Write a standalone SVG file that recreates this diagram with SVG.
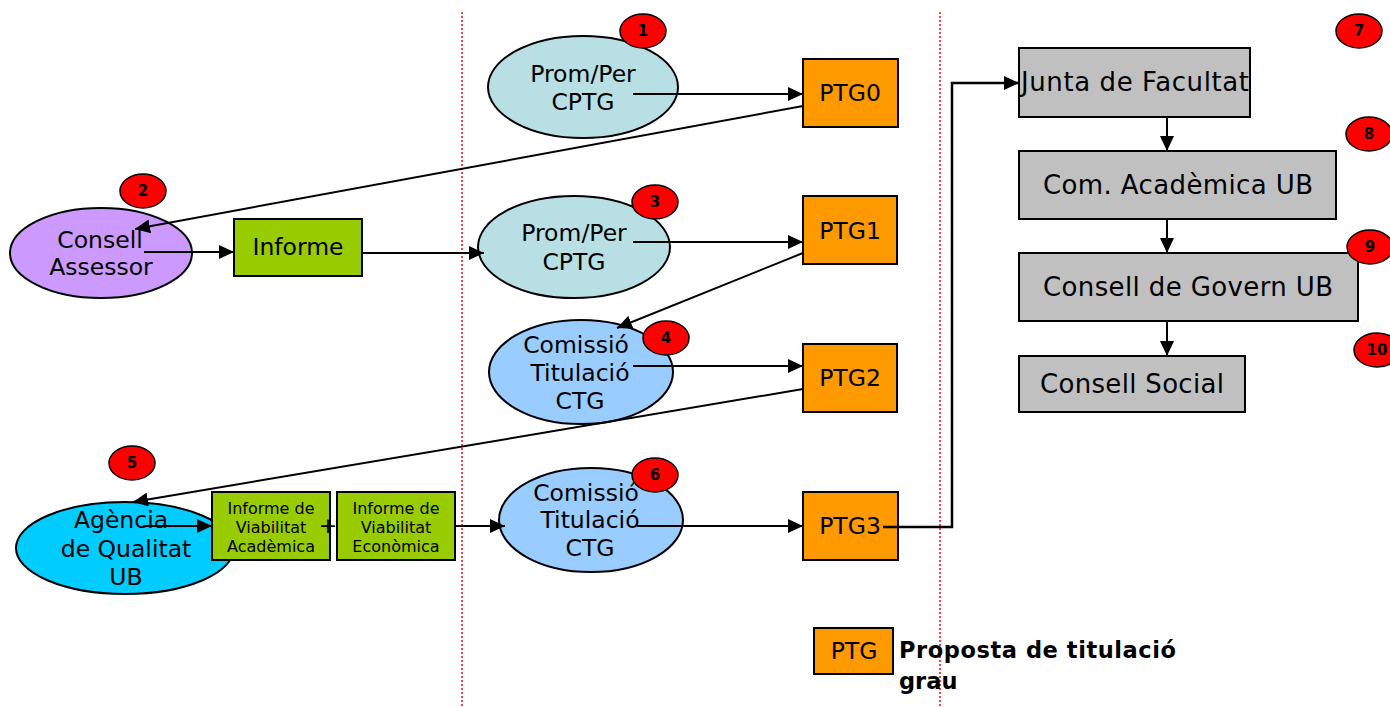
<svg xmlns="http://www.w3.org/2000/svg" width="1390" height="707" viewBox="0 0 1390 707">
<style>
text{font-family:"DejaVu Sans","Verdana",sans-serif;fill:#000;text-anchor:middle;dominant-baseline:central}
.n{stroke:#000;stroke-width:2}
.t{font-size:23.5px}
.r{font-size:26px}
.s{font-size:16px}
.b{fill:#ff0000;stroke:#000;stroke-width:1.5}
.bt{font-size:15px;font-weight:bold}
.c{fill:none;stroke:#000;stroke-width:2}
.d{stroke:#ff0000;stroke-width:1.5;stroke-dasharray:2 2}
.lg{font-size:22.5px;font-weight:bold;text-anchor:start}
</style>
<defs>
<marker id="ah" markerUnits="userSpaceOnUse" markerWidth="16" markerHeight="14" refX="15" refY="7" orient="auto">
<path d="M0,0 L15,7 L0,14 Z" fill="#000"/>
</marker>
</defs>
<rect width="1390" height="707" fill="#fff"/>
<g id="separators">
<line class="d" x1="462" y1="12" x2="462" y2="707"/>
<line class="d" x1="940" y1="12" x2="940" y2="707"/>
</g>
<g id="n1">
<ellipse class="n" cx="583" cy="87" rx="95" ry="51" fill="#b8dfe3"/>
<text class="t" x="583" y="74">Prom/Per</text>
<text class="t" x="583" y="102">CPTG</text>
<ellipse class="b" cx="643" cy="31" rx="23" ry="17"/>
<text class="bt" x="643" y="31">1</text>
</g>
<g id="ptg0">
<rect class="n" x="803" y="59" width="95" height="68" fill="#ff9900"/>
<text class="t" x="850" y="93">PTG0</text>
</g>
<g id="n2">
<ellipse class="n" cx="101" cy="253" rx="91" ry="45" fill="#cc99ff"/>
<text class="t" x="100" y="240">Consell</text>
<text class="t" x="101" y="267">Assessor</text>
<ellipse class="b" cx="143" cy="191" rx="23" ry="17"/>
<text class="bt" x="143" y="191">2</text>
</g>
<g id="informe">
<rect class="n" x="234" y="219" width="128" height="57" fill="#99cc00"/>
<text class="t" x="298" y="247">Informe</text>
</g>
<g id="n3">
<ellipse class="n" cx="574" cy="247" rx="96" ry="51" fill="#b8dfe3"/>
<text class="t" x="574" y="233">Prom/Per</text>
<text class="t" x="574" y="262">CPTG</text>
<ellipse class="b" cx="655" cy="202" rx="23" ry="17"/>
<text class="bt" x="655" y="202">3</text>
</g>
<g id="ptg1">
<rect class="n" x="803" y="196" width="94" height="68" fill="#ff9900"/>
<text class="t" x="850" y="231">PTG1</text>
</g>
<g id="n4">
<ellipse class="n" cx="581" cy="372" rx="92" ry="52" fill="#99ccff"/>
<text class="t" x="576" y="345">Comissió</text>
<text class="t" x="580" y="373">Titulació</text>
<text class="t" x="580" y="401">CTG</text>
<ellipse class="b" cx="666" cy="338" rx="23" ry="17"/>
<text class="bt" x="666" y="338">4</text>
</g>
<g id="ptg2">
<rect class="n" x="803" y="344" width="94" height="68" fill="#ff9900"/>
<text class="t" x="850" y="378">PTG2</text>
</g>
<g id="n5">
<ellipse class="n" cx="125" cy="548" rx="109" ry="46" fill="#00ccff"/>
<text class="t" x="121" y="520">Agència</text>
<text class="t" x="126" y="549">de Qualitat</text>
<text class="t" x="126" y="577">UB</text>
<ellipse class="b" cx="132" cy="463" rx="23" ry="17"/>
<text class="bt" x="132" y="463">5</text>
</g>
<g id="iva">
<rect class="n" x="212" y="492" width="118" height="68" fill="#99cc00"/>
<text class="s" x="271" y="508">Informe de</text>
<text class="s" x="271" y="527">Viabilitat</text>
<text class="s" x="271" y="546">Acadèmica</text>
</g>
<g id="plus">
<text x="328" y="525" style="font-size:22px">+</text>
</g>
<g id="ive">
<rect class="n" x="337" y="492" width="118" height="68" fill="#99cc00"/>
<text class="s" x="396" y="508">Informe de</text>
<text class="s" x="396" y="527">Viabilitat</text>
<text class="s" x="396" y="546">Econòmica</text>
</g>
<g id="n6">
<ellipse class="n" cx="591" cy="520" rx="92" ry="52" fill="#99ccff"/>
<text class="t" x="586" y="493">Comissió</text>
<text class="t" x="590" y="520">Titulació</text>
<text class="t" x="590" y="548">CTG</text>
<ellipse class="b" cx="655" cy="475" rx="23" ry="17"/>
<text class="bt" x="655" y="475">6</text>
</g>
<g id="ptg3">
<rect class="n" x="803" y="492" width="95" height="68" fill="#ff9900"/>
<text class="t" x="850" y="526">PTG3</text>
</g>
<g id="junta">
<rect class="n" x="1019" y="48" width="231" height="69" fill="#c0c0c0"/>
<text class="r" x="1135" y="82" textLength="228" lengthAdjust="spacing">Junta de Facultat</text>
<ellipse class="b" cx="1359" cy="31" rx="23" ry="17"/>
<text class="bt" x="1359" y="31">7</text>
</g>
<g id="comacad">
<rect class="n" x="1019" y="151" width="317" height="68" fill="#c0c0c0"/>
<text class="r" x="1178" y="185" textLength="270" lengthAdjust="spacing">Com. Acadèmica UB</text>
<ellipse class="b" cx="1369" cy="134" rx="23" ry="17"/>
<text class="bt" x="1369" y="134">8</text>
</g>
<g id="govern">
<rect class="n" x="1019" y="253" width="339" height="68" fill="#c0c0c0"/>
<text class="r" x="1188" y="287" textLength="290" lengthAdjust="spacing">Consell de Govern UB</text>
<ellipse class="b" cx="1370" cy="247" rx="23" ry="17"/>
<text class="bt" x="1370" y="247">9</text>
</g>
<g id="social">
<rect class="n" x="1019" y="356" width="226" height="56" fill="#c0c0c0"/>
<text class="r" x="1132" y="384" textLength="184" lengthAdjust="spacing">Consell Social</text>
<ellipse class="b" cx="1377" cy="350" rx="23" ry="17"/>
<text class="bt" x="1377" y="350">10</text>
</g>
<g id="connectors">
<line class="c" x1="633" y1="94" x2="803" y2="94" marker-end="url(#ah)"/>
<line class="c" x1="803" y1="106" x2="135" y2="229" marker-end="url(#ah)"/>
<line class="c" x1="144" y1="252" x2="234" y2="252" marker-end="url(#ah)"/>
<line class="c" x1="362" y1="253" x2="484" y2="253" marker-end="url(#ah)"/>
<line class="c" x1="633" y1="242" x2="803" y2="242" marker-end="url(#ah)"/>
<line class="c" x1="803" y1="253" x2="617" y2="328" marker-end="url(#ah)"/>
<line class="c" x1="633" y1="366" x2="803" y2="366" marker-end="url(#ah)"/>
<line class="c" x1="803" y1="389" x2="133" y2="502" marker-end="url(#ah)"/>
<line class="c" x1="143" y1="526" x2="212" y2="526" marker-end="url(#ah)"/>
<line class="c" x1="455" y1="526" x2="505" y2="526" marker-end="url(#ah)"/>
<line class="c" x1="637" y1="526" x2="803" y2="526" marker-end="url(#ah)"/>
<polyline class="c" style="stroke-width:2.5" points="883,527 952,527 952,83 1019,83" marker-end="url(#ah)"/>
<line class="c" x1="1167" y1="117" x2="1167" y2="151" marker-end="url(#ah)"/>
<line class="c" x1="1167" y1="219" x2="1167" y2="253" marker-end="url(#ah)"/>
<line class="c" x1="1167" y1="321" x2="1167" y2="356" marker-end="url(#ah)"/>
</g>
<g id="legend">
<rect class="n" x="814" y="628" width="79" height="46" fill="#ff9900"/>
<text class="t" x="854" y="651">PTG</text>
<text class="lg" x="899" y="650" textLength="277" lengthAdjust="spacing">Proposta de titulació</text>
<text class="lg" x="899" y="681">grau</text>
</g>
</svg>
